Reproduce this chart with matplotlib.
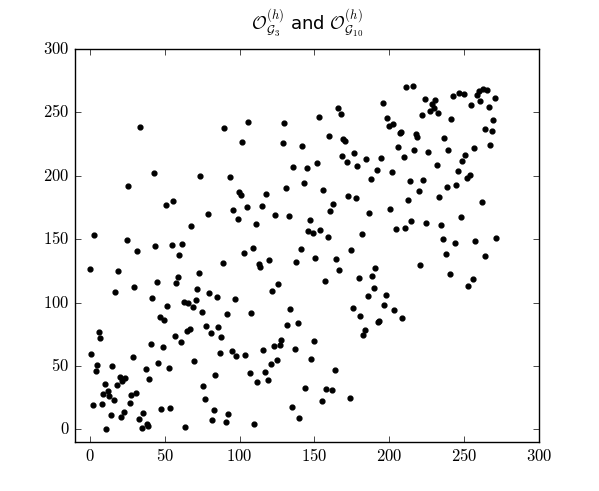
import numpy as np
import matplotlib
matplotlib.use("Agg")
import matplotlib.pyplot as plt

plt.style.use("classic")
plt.rcParams["mathtext.fontset"] = "cm"
plt.rcParams["mathtext.rm"] = "cmr10"

# points, (x, y)
pts_top = [
    (33.3, 238.8), (89.5, 237.8), (42.9, 201.9), (73.5, 200.0), (93.3, 198.8),
    (105.8, 242.7), (129.6, 241.7), (152.7, 246.7), (165.6, 253.7), (167.6, 248.8),
    (101.6, 227.0), (128.7, 225.7), (141.6, 223.9), (159.6, 231.7), (169.3, 228.8),
    (170.4, 227.8), (168.7, 215.8), (171.6, 211.0), (176.4, 217.8), (184.7, 212.9),
    (178.4, 207.9), (191.6, 204.8), (135.6, 206.8), (144.7, 205.8), (151.6, 210.0),
    (187.6, 197.4),
    (211.3, 269.7), (215.6, 270.7), (195.6, 257.7), (223.6, 260.5), (230.4, 259.5),
    (228.4, 256.6), (229.6, 253.2), (226.9, 251.1), (232.4, 249.8), (221.6, 247.7),
    (198.7, 245.6), (199.6, 239.6), (202.4, 240.9), (206.9, 233.7), (207.6, 234.5),
    (217.6, 232.8), (218.7, 230.6), (241.3, 244.6), (242.4, 262.6), (246.4, 265.7),
    (249.6, 264.7), (254.4, 255.5), (258.2, 263.7), (259.6, 266.9), (262.4, 268.6),
    (265.3, 267.6), (260.4, 258.7), (266.4, 254.5), (270.4, 261.6), (269.3, 243.8),
    (263.6, 236.7), (268.4, 235.6), (267.3, 224.7), (236.4, 229.9), (239.3, 220.6),
    (256.4, 221.8), (250.4, 216.8), (248.4, 211.8), (245.6, 204.0), (251.6, 198.2),
    (253.6, 200.8), (231.6, 208.9), (225.6, 218.9), (216.4, 220.0), (209.6, 215.0),
    (205.6, 222.8), (194.7, 213.9), (201.6, 202.9), (213.6, 196.0), (222.4, 196.6),
]

pts_mid = [
    (25.8, 192.2), (50.7, 176.9), (55.8, 180.1), (78.7, 170.2), (67.6, 160.3),
    (2.7, 153.4), (24.7, 149.3), (31.8, 140.4), (43.8, 144.3), (54.7, 145.3),
    (61.6, 146.4), (59.6, 137.2), (88.7, 131.4), (-0.2, 126.5), (18.9, 124.7),
    (72.7, 123.6), (58.7, 120.4), (57.6, 115.5), (44.7, 116.5), (29.6, 112.3),
    (16.7, 108.4), (71.6, 110.5), (79.8, 107.4), (84.7, 104.5), (41.6, 103.5),
    (62.7, 100.5), (65.6, 99.5), (70.7, 101.6), (68.7, 96.6), (51.8, 97.4),
    (130.7, 190.1), (142.7, 194.0), (155.6, 189.1), (172.7, 184.1), (177.6, 182.2),
    (99.6, 187.2), (100.7, 185.1), (117.6, 185.9), (162.7, 178.0), (160.7, 172.0),
    (186.7, 171.0), (95.6, 173.1), (104.7, 175.2), (114.7, 176.2), (98.7, 166.0),
    (123.6, 169.1), (132.7, 168.1), (110.7, 162.1), (146.7, 165.0), (145.6, 156.1),
    (148.7, 155.2), (153.8, 157.1), (158.7, 152.1), (181.6, 154.2), (102.7, 139.3),
    (108.7, 143.2), (140.7, 142.2), (174.7, 141.2), (112.7, 130.4), (113.8, 128.0),
    (119.6, 133.3), (137.6, 132.2), (150.4, 135.1), (164.4, 134.3), (166.4, 125.4),
    (190.4, 127.3), (188.4, 121.2), (179.6, 119.4), (156.7, 117.3), (125.6, 114.4),
    (121.6, 109.4), (189.6, 111.3), (185.6, 105.3), (96.7, 102.6), (133.6, 95.0),
    (175.6, 95.6),
    (238.4, 191.1), (244.4, 193.0), (219.6, 188.0), (212.4, 180.9), (233.3, 183.0),
    (261.6, 179.1), (200.4, 173.8), (214.4, 164.2), (204.4, 158.1), (210.4, 159.2),
    (224.4, 163.1), (234.4, 161.3), (247.6, 167.1), (235.6, 150.3), (243.6, 147.1),
    (257.3, 148.2), (271.3, 151.3), (237.6, 138.3), (264.2, 136.4), (220.4, 129.4),
    (240.4, 122.3), (255.6, 118.4), (252.4, 113.4), (197.6, 106.3), (196.4, 98.4),
    (203.3, 94.0), (208.4, 87.4), (192.4, 84.6), (193.3, 85.4),
]

pts_low = [
    (74.7, 92.7), (91.5, 90.6), (46.7, 88.8), (49.8, 86.4), (5.8, 76.7),
    (6.9, 71.7), (77.6, 81.7), (85.8, 80.7), (80.9, 75.7), (87.8, 72.8),
    (64.7, 77.5), (66.7, 79.1), (56.9, 73.8), (60.9, 68.6), (40.7, 67.6),
    (48.9, 64.6), (69.6, 53.7), (86.7, 60.5), (0.7, 59.7), (28.7, 56.8),
    (45.6, 52.6), (4.7, 50.8), (3.8, 45.8), (14.7, 50.0), (52.7, 48.7),
    (37.6, 47.9), (39.8, 39.7), (83.8, 42.9), (9.8, 35.8), (19.8, 41.6),
    (21.8, 37.9), (23.8, 40.8), (17.8, 34.8), (8.7, 28.0), (11.8, 29.8),
    (12.9, 25.9), (15.8, 23.0), (7.8, 19.9), (1.8, 18.9), (27.8, 26.9),
    (30.9, 28.8), (26.7, 21.0), (75.8, 33.8), (76.9, 23.8), (82.7, 14.9),
    (81.6, 7.0), (90.7, 6.0), (92.4, 12.0), (47.8, 16.0), (53.8, 17.0),
    (13.8, 11.0), (20.9, 10.0), (22.9, 13.9), (32.9, 8.1), (35.8, 12.8),
    (38.0, 4.4), (38.9, 2.9), (34.9, 1.0), (10.9, 0.0), (63.8, 2.1),
    (107.6, 91.4), (131.6, 82.5), (138.7, 83.5), (94.7, 61.5), (97.6, 57.6),
    (103.6, 58.7), (115.6, 62.6), (122.7, 65.7), (126.7, 66.8), (127.6, 70.7),
    (136.7, 63.6), (149.6, 69.7), (120.7, 51.8), (124.7, 54.8), (147.6, 55.8),
    (163.6, 46.9), (106.7, 44.0), (116.7, 44.8), (118.7, 38.7), (111.6, 36.9),
    (143.6, 32.7), (157.6, 31.9), (161.6, 30.9), (154.7, 22.0), (173.6, 24.8),
    (134.7, 17.8), (139.6, 8.9), (109.6, 3.9), (180.7, 89.6), (182.4, 74.6),
    (183.6, 78.6),
]

xticks = [0, 50, 100, 150, 200, 250, 300]
yticks = [0, 50, 100, 150, 200, 250, 300]
title = r"$\mathcal{O}_{\mathcal{G}_3}^{(h)}$ and $\mathcal{O}_{\mathcal{G}_{10}}^{(h)}$"

pts = np.array(pts_top + pts_mid + pts_low)

fig = plt.figure(figsize=(5.99, 4.91), dpi=100, facecolor="white")
ax = fig.add_subplot(111)
ax.scatter(pts[:, 0], pts[:, 1], s=12, c="k", edgecolors="k")
ax.set_xlim(-10, 300)
ax.set_ylim(-10, 300)
ax.set_xticks(xticks)
ax.set_yticks(yticks)
ax.set_xticklabels([r"$\mathrm{%d}$" % v for v in xticks])
ax.set_yticklabels([r"$\mathrm{%d}$" % v for v in yticks])
ax.set_title(title, fontsize=13, pad=14)

fig.savefig("out.png", dpi=100, facecolor="white")
